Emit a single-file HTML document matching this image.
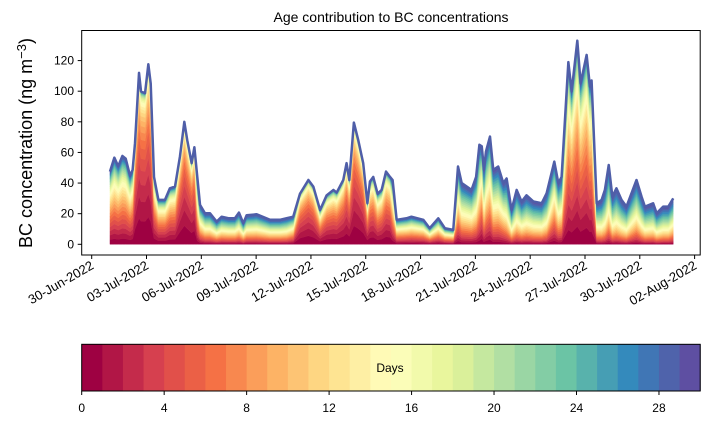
<!DOCTYPE html>
<html><head><meta charset="utf-8"><style>
body{margin:0;background:#fff;}
svg{display:block;font-family:"Liberation Sans","DejaVu Sans",sans-serif;}
</style></head><body>
<svg id="c" width="710" height="425" viewBox="0 0 710 425">
<text x="391" y="22" text-anchor="middle" font-size="14">Age contribution to BC concentrations</text>
<text transform="translate(32,143) rotate(-90)" text-anchor="middle" font-size="18">BC concentration (ng m<tspan dy="-6" font-size="13">−3</tspan><tspan dy="6">)</tspan></text>
<g id="layers"></g>
<rect x="81.7" y="30.5" width="618.5" height="224.5" fill="none" stroke="#000" stroke-width="1"/>
<g id="yaxis"></g>
<g id="xaxis"></g>
<g id="cbar"></g>
<text x="390" y="372" text-anchor="middle" font-size="12">Days</text>
</svg>
<script>
// days since 01-Jul-2022
const times=[0,0.24,0.45,0.68,0.86,1.1,1.24,1.37,1.59,1.7,1.92,2.1,2.23,2.41,2.65,3.01,3.28,3.56,3.83,4.07,4.23,4.47,4.62,4.78,4.93,5.2,5.47,5.84,6.11,6.48,6.84,7.06,7.3,7.48,8.03,8.76,9.3,9.67,10.03,10.4,10.86,11.13,11.5,11.86,12.23,12.41,12.77,12.95,13.1,13.35,13.59,13.86,14.09,14.23,14.41,14.65,14.87,15.11,15.33,15.47,15.69,16.23,16.5,17.15,17.5,17.97,18.33,18.79,19.05,19.25,19.79,20.04,20.22,20.35,20.47,20.58,20.8,20.98,21.25,21.53,21.71,21.98,22.26,22.53,22.8,23.17,23.63,23.9,24.32,24.54,24.72,25.09,25.27,25.58,25.76,26.09,26.27,26.36,26.64,26.91,27.09,27.3,27.5,27.72,28,28.27,28.82,29.1,29.28,29.73,29.92,30.28,30.56,30.83];
const totals=[47.5,56.6,51,57.7,56,44.7,48.6,66,112,99.8,98.7,117.6,105,44,29,29,36.6,37.7,57.3,80,68,53,63.4,44,25.7,20.3,20.3,14.8,18,17,17,20.7,13.7,19,19.6,16,16,17,18,33,42,37.7,22.4,32,35.5,33.8,42,53,42,79.5,68,53,26.8,41,44,33,35.5,47.5,44,42,16,17,18,16,10.5,17,10.5,9.4,50.8,40,35.5,44,65,64,48.6,60.6,70.4,48.6,50.8,40,43,22.4,35.5,27.9,32,28,26.8,33.3,54,40,44,119,99.8,133,105,123.7,103,107,26.8,29,35.5,51.8,31,36.6,29,24.6,42,31,24.6,26.8,20.3,24.6,24.6,30];
// per-day ratio of contribution between successive age bins at each time
const ageRatio=[0.95,0.95,0.95,0.95,0.95,0.95,0.94, 0.85,0.85,0.85,0.85,0.85,0.86, 0.92,0.93,0.93,0.92,0.92, 0.86,0.85,0.85,0.86,0.86, 0.97,0.99,1,1,1,1,1,1,1,1,1,1,1,1,1,0.98, 0.88,0.87,0.88, 0.92,0.9,0.9,0.9, 0.88,0.87,0.88,0.85,0.85,0.86, 0.9,0.9,0.9,0.92,0.91,0.9,0.9, 0.96,0.97,0.97,0.97,0.97,0.97,0.97,0.97,0.97, 0.98,1,1,1,0.99,0.96,1,0.99,0.98,1,1,1,1.02,1.02,1.02,1.02,1.02,1.02,1.02,1.02,0.98,1,1, 0.93,0.93,0.92,0.93,0.92,0.93,0.93, 1.02,1.03,1.03,1.02,1.03,1.03,1.03,1.03,1.02,1.03,1.03,1.03,1.03,1.03,1.03,1.02];
const yTicks=[0,20,40,60,80,100,120];
const xTickLabels=["30-Jun-2022","03-Jul-2022","06-Jul-2022","09-Jul-2022","12-Jul-2022","15-Jul-2022","18-Jul-2022","21-Jul-2022","24-Jul-2022","27-Jul-2022","30-Jul-2022","02-Aug-2022"];
const cbarTicks=[0,4,8,12,16,20,24,28];
const nAges=30;

const NS="http://www.w3.org/2000/svg";
function X(d){return 91.7+d*18.27;} // d = days since 30-Jun
function Y(v){return 244.3-v*1.531;}
function CX(a){return 81.7+a*(618.5/30);}
const stops=["#9e0142","#d53e4f","#f46d43","#fdae61","#fee08b","#ffffbf","#e6f598","#abdda4","#66c2a5","#3288bd","#5e4fa2"];
function hx(h){return [1,3,5].map(i=>parseInt(h.substr(i,2),16));}
function spectral(f){const p=f*10,i=Math.min(9,Math.floor(p)),u=p-i;const a=hx(stops[i]),b=hx(stops[i+1]);return "rgb("+a.map((v,k)=>Math.round(v+(b[k]-v)*u)).join(",")+")";}
function mk(tag,attrs,parent){const e=document.createElementNS(NS,tag);for(const k in attrs)e.setAttribute(k,attrs[k]);parent.appendChild(e);return e;}

const layersG=document.getElementById('layers');
const nPts=Math.min(times.length,totals.length,ageRatio.length);
const tt=times.slice(0,nPts);
const cum=tt.map((t,j)=>{
  const r=ageRatio[j];const w=[];let s=0;
  for(let k=0;k<nAges;k++){const v=Math.pow(r,k);w.push(v);s+=v;}
  const arr=[0];let c=0;
  for(let k=0;k<nAges;k++){c+=w[k];arr.push(totals[j]*c/s);}
  return arr;
});
for(let k=0;k<nAges;k++){
  const pts=tt.map((t,j)=>X(t+1).toFixed(2)+","+Y(cum[j][k+1]).toFixed(2));
  const back=tt.map((t,j)=>X(t+1).toFixed(2)+","+Y(cum[j][k]).toFixed(2)).reverse();
  const col=spectral(k/(nAges-1));
  const p=mk('polygon',{points:pts.concat(back).join(" "),fill:col,stroke:col,'stroke-width':0.4},layersG);
  
  
}
const topLine=mk('polyline',{points:tt.map((t,j)=>X(t+1).toFixed(2)+","+Y(totals[j]).toFixed(2)).join(" "),fill:"none",stroke:"#4f5ea8","stroke-width":2.5,"stroke-linejoin":"round"},layersG);



const ya=document.getElementById('yaxis');
yTicks.forEach(v=>{
  const l=mk('line',{x1:77.7,x2:81.7,y1:Y(v),y2:Y(v),stroke:"#000"},ya);
  
  
  const t=mk('text',{x:74,y:Y(v)+4,"text-anchor":"end","font-size":12},ya);
  t.textContent=v;
  
  
});
const xa=document.getElementById('xaxis');
xTickLabels.forEach((s,i)=>{
  const x=X(i*3);
  const l=mk('line',{x1:x,x2:x,y1:255,y2:259,stroke:"#000"},xa);
  
  
  const t=mk('text',{transform:"translate("+(x+3)+",268) rotate(-30)","text-anchor":"end","font-size":13},xa);
  t.textContent=s;
  
  
});
const cb=document.getElementById('cbar');
for(let k=0;k<nAges;k++){
  const r=mk('rect',{x:CX(k),y:344.3,width:618.5/30+0.5,height:46.7,fill:spectral(k/(nAges-1))},cb);
  
  
}
mk('rect',{x:81.7,y:344.3,width:618.5,height:46.7,fill:"none",stroke:"#000"},cb);
cbarTicks.forEach(v=>{
  const l=mk('line',{x1:CX(v),x2:CX(v),y1:391,y2:395,stroke:"#000"},cb);
  
  
  const t=mk('text',{x:CX(v),y:412,"text-anchor":"middle","font-size":12},cb);
  t.textContent=v;
  
  
});
</script>
</body></html>
